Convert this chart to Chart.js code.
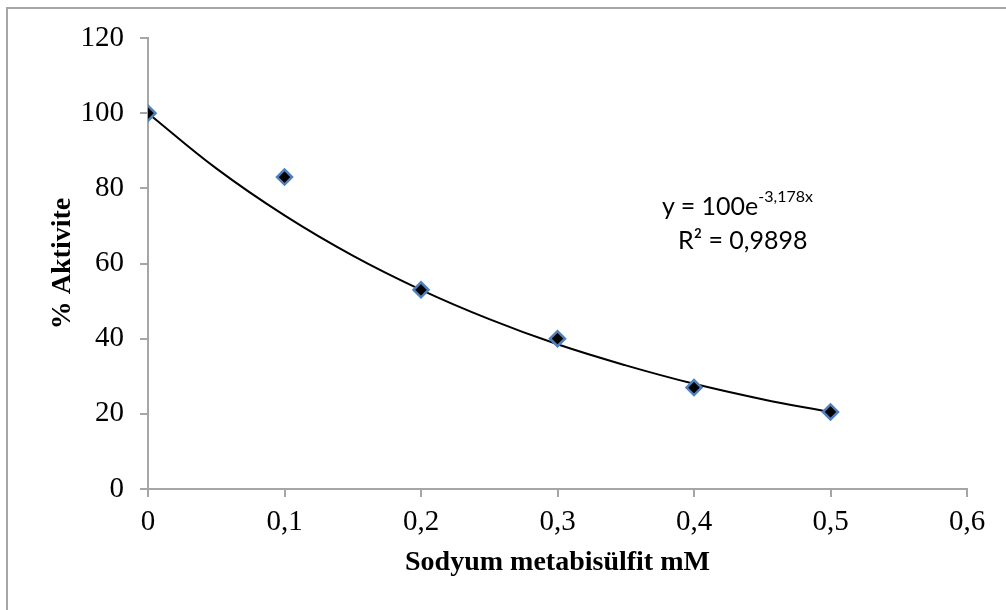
<!DOCTYPE html>
<html>
<head>
<meta charset="utf-8">
<script src="https://cdn.jsdelivr.net/npm/chart.js@4.4.0/dist/chart.umd.min.js"></script>
<style>
  body { margin: 0; background: #fff; }
  #wrap { position: relative; width: 1006px; height: 610px; overflow: hidden; }
  #frame {
    position: absolute; left: 6px; top: 7px; width: 1100px; height: 700px;
    border-left: 2px solid #a6a6a6; border-top: 2px solid #a6a6a6;
  }
  canvas { position: absolute; left: 0; top: 0; }
  .eq { position: absolute; font-family: Lato, "Open Sans", sans-serif; font-size: 25px; color: #000; white-space: nowrap; }
  .eq sup { font-size: 16px; position: relative; top: -4px; }
</style>
</head>
<body>
<div id="wrap">
  <div id="frame"></div>
  <canvas id="chart" width="1006" height="610"></canvas>
  <div class="eq" style="left:662px; top:190px;">y = 100e<sup>-3,178x</sup></div>
  <div class="eq" style="left:678px; top:224px;">R² = 0,9898</div>
</div>
<script>
// ? measured points
const concentrations = [0, 0.1, 0.2, 0.3, 0.4, 0.5];
const activity = [100, 83, 53, 40, 27, 20.5];

// ? trend curve
const trendX = [0, 0.05, 0.1, 0.15, 0.2, 0.25, 0.3, 0.35, 0.4, 0.45, 0.5];
const trendY = [100, 85.3, 72.8, 62.1, 53, 45.2, 38.5, 32.9, 28, 23.9, 20.4];

const xTicks = [0, 0.1, 0.2, 0.3, 0.4, 0.5, 0.6];
const yTicks = [0, 20, 40, 60, 80, 100, 120];
const xTitle = "Sodyum metabisülfit mM";
const yTitle = "% Aktivite";

const axisGray = "#a6a6a6";
const serif = "'Liberation Serif', 'Times New Roman', serif";

function fmt(v) {
  return String(Number(v.toFixed(1))).replace(".", ",");
}

new Chart(document.getElementById("chart"), {
  type: "scatter",
  data: {
    datasets: [
      {
        label: "Aktivite",
        data: concentrations.map((x, i) => ({ x: x, y: activity[i] })),
        pointStyle: "rectRot",
        pointRadius: 7.5,
        pointBackgroundColor: "#000",
        pointBorderColor: "#4f81bd",
        pointBorderWidth: 2.5,
        showLine: false,
      },
      {
        label: "Trend",
        data: trendX.map((x, i) => ({ x: x, y: trendY[i] })),
        showLine: true,
        borderColor: "#000",
        borderWidth: 2,
        pointRadius: 0,
        tension: 0.4,
        fill: false,
      },
    ],
  },
  options: {
    responsive: false,
    animation: false,
    layout: { padding: { top: 38, right: 39, left: 0, bottom: 0 } },
    plugins: { legend: { display: false }, tooltip: { enabled: false } },
    scales: {
      x: {
        type: "linear",
        min: 0,
        max: 0.6,
        afterFit: (s) => { s.height = 121; },
        afterBuildTicks: (s) => { s.ticks = xTicks.map((v) => ({ value: v })); },
        ticks: {
          color: "#000",
          font: { family: serif, size: 29 },
          padding: 8,
          maxRotation: 0,
          callback: (v) => fmt(v),
        },
        grid: { drawOnChartArea: false, drawTicks: true, tickLength: 8, color: axisGray, lineWidth: 2 },
        border: { display: true, color: axisGray, width: 2 },
        title: {
          display: true,
          text: xTitle,
          color: "#000",
          font: { family: serif, size: 28, weight: "bold" },
          padding: { top: 0, bottom: 30 },
        },
      },
      y: {
        min: 0,
        max: 120,
        afterFit: (s) => { s.width = 148; },
        afterBuildTicks: (s) => { s.ticks = yTicks.map((v) => ({ value: v })); },
        ticks: {
          color: "#000",
          font: { family: serif, size: 29 },
          padding: 16,
        },
        grid: { drawOnChartArea: false, drawTicks: true, tickLength: 8, color: axisGray, lineWidth: 2 },
        border: { display: true, color: axisGray, width: 2 },
        title: {
          display: true,
          text: yTitle,
          color: "#000",
          font: { family: serif, size: 28, weight: "bold" },
          padding: { top: 46, bottom: 0 },
        },
      },
    },
  },
});
</script>
</body>
</html>
